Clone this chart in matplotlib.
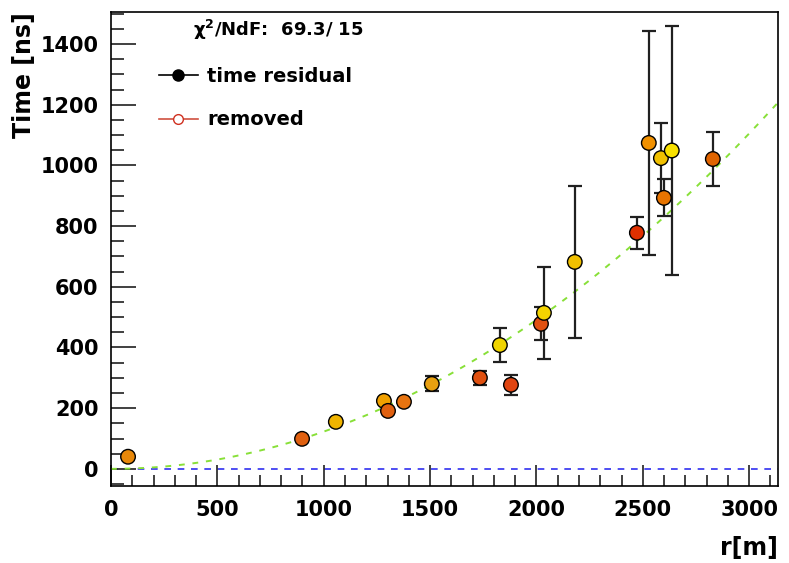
import numpy as np
import matplotlib.pyplot as plt
from matplotlib.ticker import MultipleLocator
from matplotlib.lines import Line2D

plt.rcParams['font.family'] = ['DejaVu Sans']
plt.rcParams['font.weight'] = 'bold'
plt.rcParams['mathtext.default'] = 'bf'

# station distance to shower axis [m], time residual [ns] and its error
r = [80, 898, 1057, 1283, 1302, 1377, 1508, 1734, 1880, 1828,
     2021, 2035, 2180, 2472, 2528, 2585, 2599, 2636, 2829]
t = [40, 99, 155, 224, 191, 221, 280, 300, 277, 408,
     478, 514, 682, 778, 1074, 1024, 893, 1049, 1021]
t_err = [0, 0, 0, 0, 0, 0, 25, 22, 32, 55,
         55, 152, 250, 52, 370, 115, 61, 410, 88]
colors = ['#e8880a', '#e06010', '#f0b400', '#f0a000', '#e06010', '#e87410',
          '#e8a010', '#e05010', '#e04410', '#f0d400', '#e05010', '#f4d400',
          '#f0c000', '#e03000', '#f09000', '#f0c000', '#e87400', '#f8e000',
          '#e06400']

# quadratic fit of the time residuals
fit_a = 1.228e-4
chi2, ndf = 69.3, 15

fig = plt.figure(figsize=(7.89, 5.63), dpi=100)
ax = fig.add_axes([0.1407, 0.137, 0.845, 0.842])

x_min, x_max = 0, 3134
y_min, y_max = -56, 1506

ax.axhline(0, color='#3030f0', lw=1.2, ls=(0, (4, 4)), zorder=1)
xf = np.linspace(x_min, x_max, 300)
ax.plot(xf, fit_a * xf ** 2, color='#88e038', lw=1.4, ls=(0, (3, 4)), zorder=2)

ax.errorbar(r, t, yerr=t_err, fmt='none', ecolor='#202020', elinewidth=1.6,
            capsize=5, capthick=1.6, zorder=3)
ax.scatter(r, t, s=110, c=colors, edgecolors='black', linewidths=1.0,
           marker='o', zorder=4)

ax.set_xlim(x_min, x_max)
ax.set_ylim(y_min, y_max)

ax.xaxis.set_major_locator(MultipleLocator(500))
ax.xaxis.set_minor_locator(MultipleLocator(100))
ax.yaxis.set_major_locator(MultipleLocator(200))
ax.yaxis.set_minor_locator(MultipleLocator(50))
ax.tick_params(which='both', direction='in', top=False, right=False,
               width=1.2, colors='#202020', labelsize=15)
ax.tick_params(axis='x', which='major', length=15, pad=10)
ax.tick_params(axis='x', which='minor', length=8)
ax.tick_params(axis='y', which='major', length=18, pad=9)
ax.tick_params(axis='y', which='minor', length=9)
for lab in ax.get_xticklabels() + ax.get_yticklabels():
    lab.set_fontweight('bold')
    lab.set_color('black')
for sp in ax.spines.values():
    sp.set_linewidth(1.2)

fig.text(24 / 789, 1 - 75 / 563, 'Time [ns]', rotation=90, fontsize=17,
         fontweight='bold', ha='center', va='center')
fig.text(778 / 789, 1 - 548 / 563, 'r[m]', fontsize=17, fontweight='bold',
         ha='right', va='center')

ax.text(0.123, 0.962, r'$\chi^{2}$/NdF:  %.1f/ %d' % (chi2, ndf),
        transform=ax.transAxes, fontsize=13, fontweight='bold', va='center')

handles = [
    Line2D([0], [0], color='black', lw=1.2, marker='o', markersize=8,
           markerfacecolor='black', markeredgecolor='black'),
    Line2D([0], [0], color='#d05040', lw=1.2, marker='o', markersize=7,
           markerfacecolor='white', markeredgecolor='#d03020'),
]
ax.legend(handles, ['time residual', 'removed'], loc='upper left',
          bbox_to_anchor=(0.06, 0.90), frameon=False,
          handlelength=2.0, labelspacing=1.25, borderaxespad=0,
          handletextpad=0.5, prop={'weight': 'bold', 'size': 14})

fig.savefig('out.png', dpi=100)
